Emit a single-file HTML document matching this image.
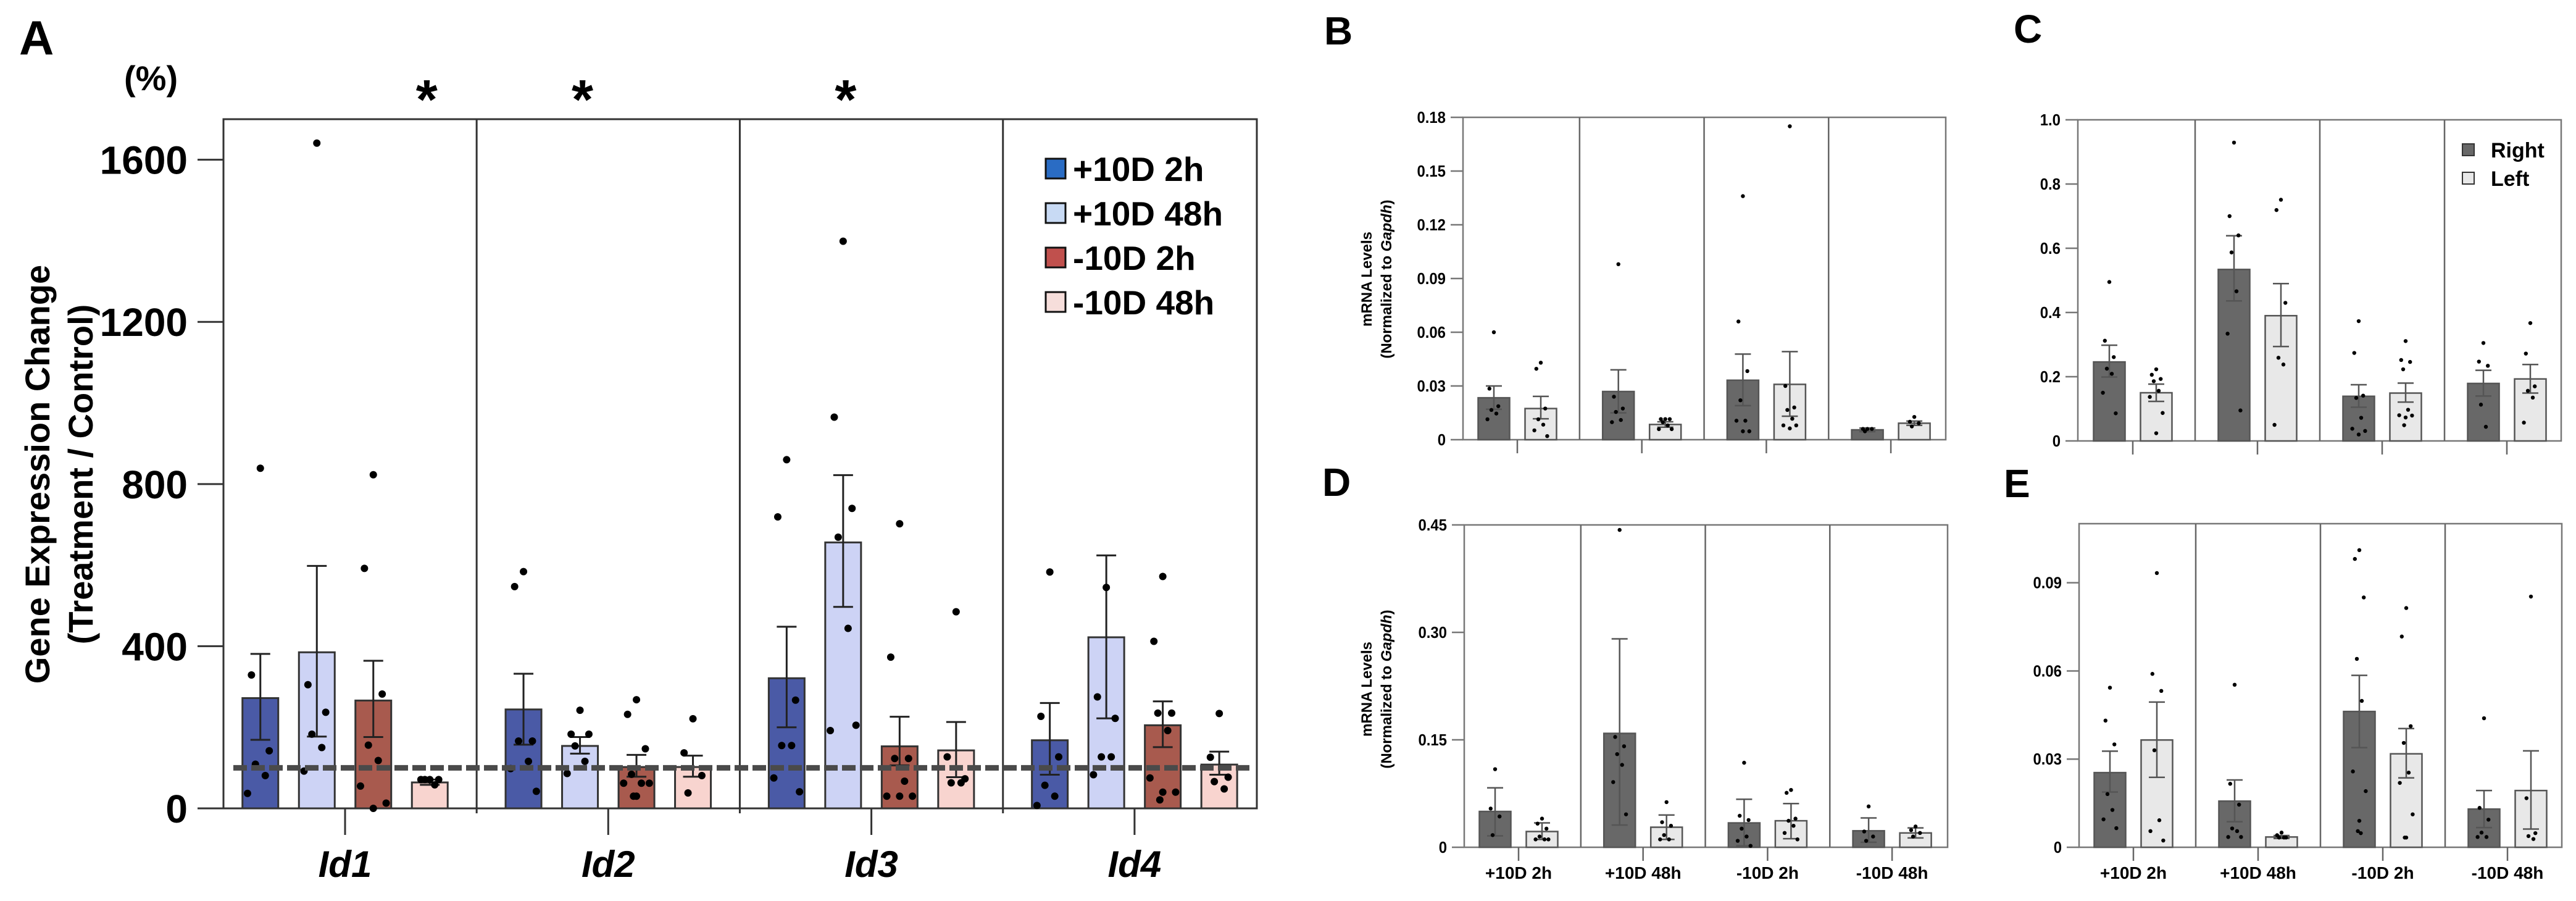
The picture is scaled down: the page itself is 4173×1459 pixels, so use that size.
<!DOCTYPE html>
<html><head><meta charset="utf-8"><title>Id gene expression figure</title>
<style>
html,body{margin:0;padding:0;background:#fff;}
svg{display:block;font-family:"Liberation Sans",Arial,sans-serif;}
</style></head>
<body>
<svg id="fig" width="4173" height="1459" viewBox="0 0 4173 1459" xmlns="http://www.w3.org/2000/svg"></svg>
<script>
// ===== Panel A data =====
const aGenes = ['Id1','Id2','Id3','Id4'];
const aSeries = ['+10D 2h','+10D 48h','-10D 2h','-10D 48h'];
const aTicks = [0,400,800,1200,1600];
const aTickLabels = ['0','400','800','1200','1600'];
const aMeans = [[272,385,266,64],[244,154,102,102],[321,656,153,143],[168,422,205,108]];
const aErrHi = [[381,598,364,71],[332,176,132,130],[448,822,226,213],[260,624,264,140]];
const aErrLo = [[169,177,176,58],[157,135,78,78],[200,497,106,77],[83,222,151,83]];
const aDots = [
 [[839,329,142,109,81,37],[1641,305,237,183,150,92],[823,592,282,156,118,55,13,0],[71,71,71,71,58]],
 [[584,547,166,166,116,98,42],[242,183,183,154,116,86],[268,232,147,84,62,62,62,30,30],[221,137,81,38]],
 [[860,719,267,155,155,75,41],[1399,965,740,669,444,192,205],[702,373,123,123,67,30,30,30],[485,127,73,63,63]],
 [[583,227,127,57,30,7],[545,275,222,127,127,83],[572,412,235,235,192,75,40,40,21],[234,126,77,66,48]]
];
const aStarGene = [0,1,2];
const aStarSeries = [3,1,1];
const aRefLine = 100;

// ===== Small panels shared categories =====
const condLabels = ['+10D 2h','+10D 48h','-10D 2h','-10D 48h'];
const sideLabels = ['Right','Left'];

// Panel B
const bTicks = [0,0.03,0.06,0.09,0.12,0.15,0.18];
const bTickLabels = ['0','0.03','0.06','0.09','0.12','0.15','0.18'];
const bMeans = [[0.0234,0.0174],[0.0269,0.0085],[0.0332,0.0309],[0.0055,0.0092]];
const bErrHi = [[0.030,0.0242],[0.039,0.010],[0.0478,0.0492],[0.0065,0.0104]];
const bErrLo = [[0.017,0.0117],[0.015,0.007],[0.019,0.0131],[0.0045,0.008]];
const bDots = [
 [[0.060,0.0285,0.0187,0.0166,0.0146,0.0114],[0.043,0.0396,0.0174,0.0114,0.0084,0.0052,0.002]],
 [[0.098,0.024,0.0174,0.0155,0.011,0.0098],[0.0115,0.0115,0.0115,0.0098,0.008,0.0059,0.0059]],
 [[0.136,0.066,0.0383,0.022,0.0106,0.0106,0.0047,0.0047],[0.175,0.030,0.018,0.0166,0.0117,0.008,0.008,0.0063]],
 [[0.006,0.006,0.006,0.0047],[0.0127,0.010,0.0092,0.0074]]
];
// Panel C
const cTicks = [0,0.2,0.4,0.6,0.8,1.0];
const cTickLabels = ['0','0.2','0.4','0.6','0.8','1.0'];
const cMeans = [[0.246,0.150],[0.534,0.390],[0.139,0.149],[0.179,0.193]];
const cErrHi = [[0.298,0.177],[0.639,0.490],[0.175,0.180],[0.220,0.238]];
const cErrLo = [[0.199,0.123],[0.436,0.294],[0.105,0.121],[0.140,0.149]];
const cDots = [
 [[0.495,0.312,0.261,0.225,0.209,0.150,0.086],[0.223,0.206,0.193,0.186,0.156,0.137,0.087,0.024]],
 [[0.929,0.700,0.640,0.587,0.466,0.334,0.095],[0.751,0.719,0.430,0.259,0.238,0.050]],
 [[0.373,0.274,0.141,0.134,0.072,0.038,0.031,0.020],[0.311,0.252,0.246,0.223,0.097,0.080,0.079,0.073,0.049]],
 [[0.305,0.247,0.234,0.113,0.044],[0.367,0.272,0.170,0.156,0.135,0.057]]
];
// Panel D
const dTicks = [0,0.15,0.30,0.45];
const dTickLabels = ['0','0.15','0.30','0.45'];
const dMeans = [[0.050,0.022],[0.159,0.028],[0.034,0.037],[0.023,0.020]];
const dErrHi = [[0.083,0.034],[0.291,0.045],[0.067,0.061],[0.041,0.027]];
const dErrLo = [[0.016,0.011],[0.031,0.011],[0.002,0.012],[0.007,0.013]];
const dDots = [
 [[0.109,0.054,0.043,0.017],[0.040,0.033,0.026,0.015,0.011,0.011,0.011]],
 [[0.443,0.154,0.141,0.130,0.115,0.091,0.046],[0.063,0.035,0.030,0.017,0.011,0.011]],
 [[0.118,0.044,0.038,0.026,0.015,0.009,0.002],[0.080,0.076,0.040,0.037,0.030,0.020,0.011]],
 [[0.057,0.022,0.015,0.009],[0.029,0.024,0.020,0.015]]
];
// Panel E
const eTicks = [0,0.03,0.06,0.09];
const eTickLabels = ['0','0.03','0.06','0.09'];
const eMeans = [[0.0254,0.0365],[0.0157,0.0035],[0.0462,0.0318],[0.0130,0.0193]];
const eErrHi = [[0.0327,0.0494],[0.0229,0.0040],[0.0585,0.0404],[0.0193,0.0328]];
const eErrLo = [[0.0188,0.0238],[0.0087,0.0030],[0.0339,0.0236],[0.0067,0.0062]];
const eDots = [
 [[0.0543,0.0431,0.035,0.0181,0.0127,0.0095,0.0065],[0.0933,0.059,0.0532,0.033,0.0092,0.0055,0.0023]],
 [[0.0553,0.0216,0.0145,0.0064,0.0055,0.0035,0.0035],[0.005,0.0041,0.0033,0.0033,0.0033]],
 [[0.1011,0.0981,0.085,0.0641,0.0498,0.0258,0.0191,0.009,0.0055,0.0048],[0.0814,0.0717,0.0412,0.0355,0.0254,0.0219,0.0112,0.0033,0.0033]],
 [[0.0439,0.0134,0.0094,0.005,0.0035,0.0035],[0.0853,0.0167,0.0048,0.0038,0.0028]]
];

const NS='http://www.w3.org/2000/svg';
const svg=document.getElementById('fig');
function mk(tag,attrs,parent){const e=document.createElementNS(NS,tag);for(const k in attrs)e.setAttribute(k,attrs[k]);(parent||svg).appendChild(e);return e;}
function txt(s,attrs,parent){const e=mk('text',attrs,parent);e.textContent=s;return e;}
const jit=[0,-9,9,-5,5,-13,13,0,-3,3];

// ===== Panel A =====
(function(){
 const g=mk('g',{});
 
 
 const L=362,R=2036,T=193,B=1309,maxV=1700;
 const y=v=>B-(v/maxV)*(B-T);
 const tick0=559,pitch=426.3,bp=91.5,bw=58;
 const gx=i=>tick0+i*pitch;
 const bx=(i,j)=>gx(i)+(j-1.5)*bp;
 const fills=['#4a5aa6','#cdd3f5','#a85a4e','#f8d4cf'];
 const legFills=['#2a6cc4','#c8daf4','#c0504d','#f6dedb'];
 let t=txt('A',{x:31,y:88,'font-size':78,'font-weight':'bold'},g);
 
 t=txt('(%)',{x:201,y:146,'font-size':56,'font-weight':'bold'},g);
 
 // frame
 let fr=mk('rect',{x:L,y:T,width:R-L,height:B-T,fill:'none',stroke:'#333','stroke-width':3},g);
 
 for(let i=0;i<3;i++){let d=mk('line',{x1:gx(i)+pitch/2,x2:gx(i)+pitch/2,y1:T,y2:B+8,stroke:'#333','stroke-width':3},g);
  }
 // y ticks
 aTicks.forEach((v,k)=>{
  let l=mk('line',{x1:L-42,x2:L,y1:y(v),y2:y(v),stroke:'#333','stroke-width':3},g);
  
  let tl=txt(aTickLabels[k],{x:304,y:y(v)+23,'font-size':64,'font-weight':'bold','text-anchor':'end'},g);
  
 });
 let yt=txt('Gene Expression Change',{x:0,y:0,'font-size':56,'font-weight':'bold','text-anchor':'middle',transform:'translate(80,768) rotate(-90)'},g);
 
 let yt2=txt('(Treatment / Control)',{x:0,y:0,'font-size':56,'font-weight':'bold','text-anchor':'middle',transform:'translate(150,768) rotate(-90)'},g);
 
 aGenes.forEach((gn,i)=>{
  let tk=mk('line',{x1:gx(i),x2:gx(i),y1:B,y2:B+43,stroke:'#333','stroke-width':3},g);
  
  let xl=txt(gn,{x:gx(i),y:1420,'font-size':60,'font-weight':'bold','font-style':'italic','text-anchor':'middle'},g);
  
  aSeries.forEach((s,j)=>{
   const cx=bx(i,j);
   let r=mk('rect',{x:cx-bw/2,y:y(aMeans[i][j]),width:bw,height:B-y(aMeans[i][j]),fill:fills[j],stroke:'#333','stroke-width':3},g);
   
   let e=mk('path',{d:`M${cx},${y(aErrLo[i][j])}V${y(aErrHi[i][j])}M${cx-16},${y(aErrHi[i][j])}H${cx+16}M${cx-16},${y(aErrLo[i][j])}H${cx+16}`,stroke:'#222','stroke-width':3,fill:'none'},g);
   
   aDots[i][j].forEach((v,k)=>{
    let c=mk('circle',{cx:cx+jit[k%jit.length]*1.6,cy:y(v),r:6,fill:'#000'},g);
    
   });
  });
 });
 let dl=mk('line',{x1:378,x2:2030,y1:y(aRefLine),y2:y(aRefLine),stroke:'#4a4a4a','stroke-width':9,'stroke-dasharray':'22 7'},g);
 
 aStarGene.forEach((gi,k)=>{
  let st=txt('*',{x:bx(gi,aStarSeries[k])+(aStarSeries[k]==3?-5:4),y:192,'font-size':90,'font-weight':'bold','text-anchor':'middle'},g);
  
 });
 aSeries.forEach((s,j)=>{
  const ly=273+j*72;
  let sq=mk('rect',{x:1694,y:ly-16,width:32,height:32,fill:legFills[j],stroke:'#111','stroke-width':3},g);
  
  let lt=txt(s,{x:1738,y:ly+20,'font-size':55,'font-weight':'bold'},g);
  
 });
})();

// ===== Small panels =====
function smallPanel(cfg){
 const g=mk('g',{});
 
 
 const {L,R,T,B,maxV,t0,pitch}=cfg;
 const y=v=>B-(v/maxV)*(B-T);
 const gx=i=>t0+i*pitch;
 const fills=['#686868','#e8e8e8'];
 let pl=txt(cfg.letter,{x:cfg.lx,y:cfg.ly,'font-size':64,'font-weight':'bold'},g);
 
 let fr=mk('rect',{x:L,y:T,width:R-L,height:B-T,fill:'none',stroke:'#777','stroke-width':2.5},g);
 
 for(let i=0;i<3;i++){let d=mk('line',{x1:gx(i)+pitch/2,x2:gx(i)+pitch/2,y1:T,y2:B,stroke:'#666','stroke-width':2.5},g);
  }
 cfg.ticks.forEach((v,k)=>{
  let l=mk('line',{x1:L-20,x2:L,y1:y(v),y2:y(v),stroke:'#777','stroke-width':2.5},g);
  
  let tl=txt(cfg.tickLabels[k],{x:L-28,y:y(v)+9,'font-size':26,'font-weight':'bold','text-anchor':'end',transform:`translate(${L-28},0) scale(0.92,1) translate(${-(L-28)},0)`},g);
  
 });
 if(cfg.title){
  let a=txt('mRNA Levels',{x:0,y:0,'font-size':24,'font-weight':'bold','text-anchor':'middle',transform:`translate(${cfg.tx},${cfg.ty}) rotate(-90)`},g);
  
  let b=mk('text',{x:0,y:0,'font-size':24,'font-weight':'bold','text-anchor':'middle',transform:`translate(${cfg.tx+32},${cfg.ty}) rotate(-90)`},g);
  b.innerHTML='(Normalized to <tspan font-style="italic">Gapdh</tspan>)';
  
 }
 condLabels.forEach((cl,i)=>{
  let tk=mk('line',{x1:gx(i),x2:gx(i),y1:B,y2:B+22,stroke:'#666','stroke-width':2.5},g);
  
  if(cfg.xlabels){
   let xl=txt(cl,{x:gx(i),y:B+51,'font-size':28,'font-weight':'bold','text-anchor':'middle'},g);
   
  }
  sideLabels.forEach((s,j)=>{
   const cx=gx(i)+(j===0?-38:38);
   const m=cfg.means[i][j];
   let r=mk('rect',{x:cx-25.5,y:y(m),width:51,height:B-y(m),fill:fills[j],stroke:'#555','stroke-width':2.5},g);
   
   let e=mk('path',{d:`M${cx},${y(cfg.lo[i][j])}V${y(cfg.hi[i][j])}M${cx-13},${y(cfg.hi[i][j])}H${cx+13}M${cx-13},${y(cfg.lo[i][j])}H${cx+13}`,stroke:'#555','stroke-width':2.5,fill:'none'},g);
   
   cfg.dots[i][j].forEach((v,k)=>{
    let c=mk('circle',{cx:cx+jit[k%jit.length]*0.8,cy:y(v),r:3.2,fill:'#000'},g);
    
   });
  });
 });
 if(cfg.legend){
  sideLabels.forEach((s,j)=>{
   const ly=243+j*46;
   let sq=mk('rect',{x:3989,y:ly-10,width:19,height:19,fill:fills[j],stroke:'#333','stroke-width':2},g);
   
   let lt=txt(s,{x:4035,y:ly+12,'font-size':34,'font-weight':'bold'},g);
   
  });
 }
}
smallPanel({name:'panel-b',letter:'B',lx:2145,ly:72,L:2370,R:3152,T:190,B:712,maxV:0.18,t0:2458,pitch:201.7,ticks:bTicks,tickLabels:bTickLabels,means:bMeans,hi:bErrHi,lo:bErrLo,dots:bDots,title:true,tx:2222,ty:452});
smallPanel({name:'panel-c',letter:'C',lx:3262,ly:69,L:3366,R:4149,T:194,B:714,maxV:1.0,t0:3455,pitch:202,ticks:cTicks,tickLabels:cTickLabels,means:cMeans,hi:cErrHi,lo:cErrLo,dots:cDots,legend:true});
smallPanel({name:'panel-d',letter:'D',lx:2142,ly:803,L:2372,R:3155,T:850,B:1372,maxV:0.45,t0:2460,pitch:201.7,ticks:dTicks,tickLabels:dTickLabels,means:dMeans,hi:dErrHi,lo:dErrLo,dots:dDots,title:true,xlabels:true,tx:2222,ty:1116});
smallPanel({name:'panel-e',letter:'E',lx:3246,ly:805,L:3368,R:4150,T:848,B:1372,maxV:0.1101,t0:3456,pitch:202,ticks:eTicks,tickLabels:eTickLabels,means:eMeans,hi:eErrHi,lo:eErrLo,dots:eDots,xlabels:true});
</script>
</body></html>
